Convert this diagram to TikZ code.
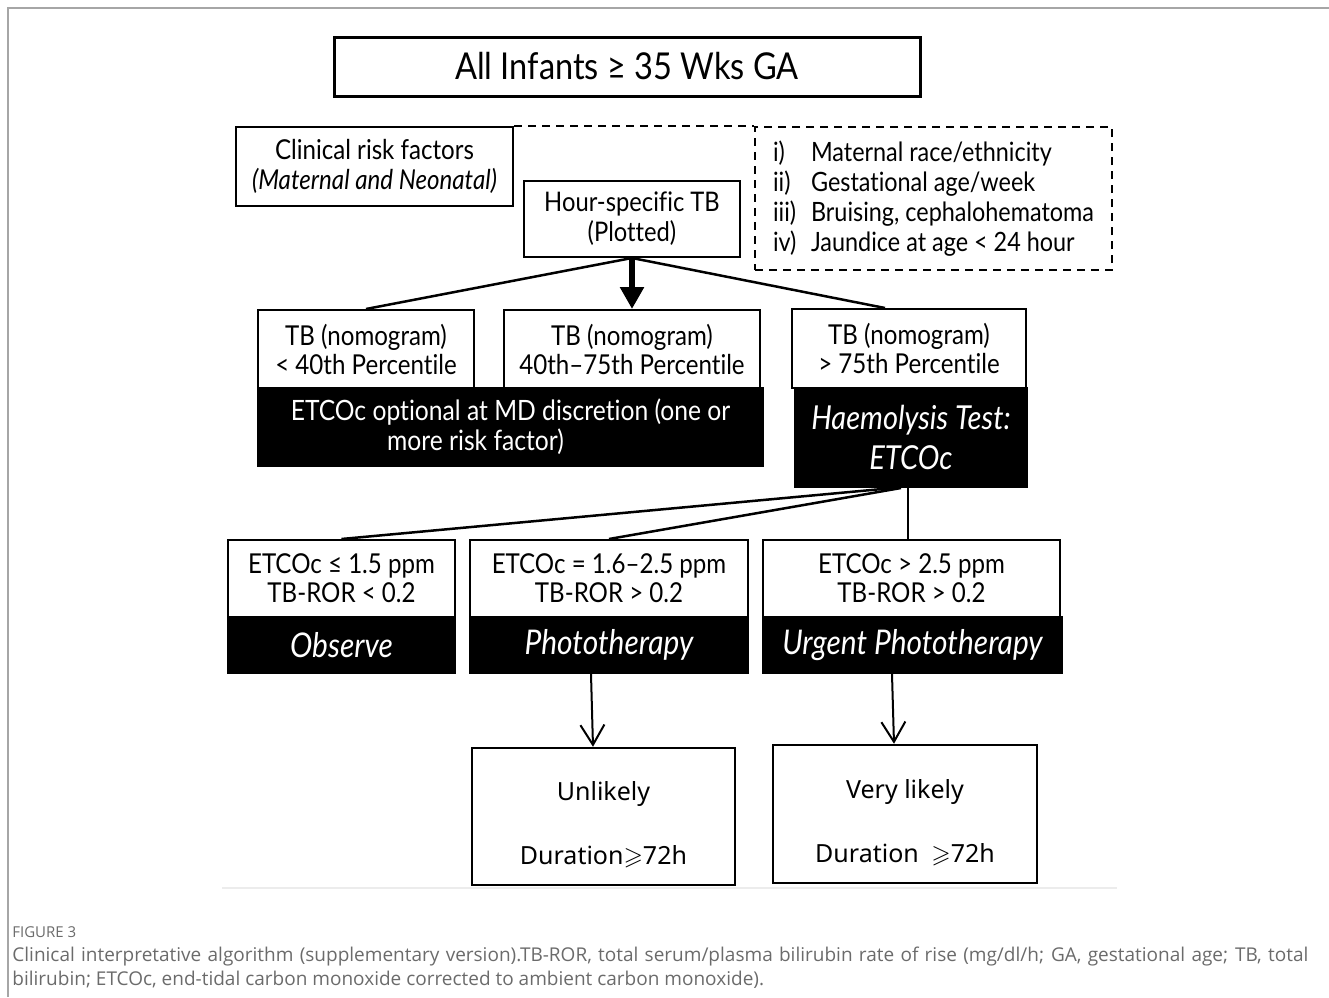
\documentclass[tikz,border=0pt]{standalone}
\usepackage{amssymb}
\usepackage{fontspec}
\setmainfont{Lato}[FakeStretch=0.88,Ligatures=NoCommon]
\newfontfamily\capfont{Open Sans}
\newfontfamily\outfont{Noto Sans}
\usetikzlibrary{arrows.meta}
\definecolor{capgrey}{HTML}{6B6B6B}
\tikzstyle{box}=[draw,line width=1pt,inner sep=0pt,align=center,fill=white,
                 font=\fontsize{13.7}{14.5}\selectfont]
\tikzstyle{darkbox}=[box,fill=black,text=white,font=\fontsize{17}{20}\selectfont\itshape]
\tikzstyle{outbox}=[box,line width=1.25pt,font=\outfont\fontsize{12.5}{32}\selectfont]
\tikzstyle{link}=[line width=1.25pt]

\begin{document}
\begin{tikzpicture}[x=0.5pt,y=-0.5pt]
  \useasboundingbox (0,0) rectangle (1329,997);
  \draw[gray!70,line width=0.75pt] (8,997) -- (8,8) -- (1329,8);
  % top and risk factors
  \node[box,line width=1.5pt,minimum width=293pt,minimum height=29.5pt,
        font=\fontsize{18.5}{20}\selectfont] (title) at (627,66.5) {All Infants ≥ 35 Wks GA};
  \node[box,minimum width=138.5pt,minimum height=39.5pt,font=\fontsize{13.7}{15}\selectfont]
        (risk) at (374.5,166.5) {Clinical risk factors\\\textit{(Maternal and Neonatal)}};
  \node[box,minimum width=108pt,minimum height=38pt,font=\fontsize{13.5}{15}\selectfont]
        (hour) at (632,219) {Hour-specific TB\\(Plotted)};
  \node[box,dashed,dash pattern=on 4pt off 3pt,align=left,minimum width=178.5pt,minimum height=71.5pt,
        font=\fontsize{13.3}{15}\selectfont] (factors) at (933.5,198.5)
        {\makebox[19pt][l]{i)}Maternal race/ethnicity\\
         \makebox[19pt][l]{ii)}Gestational age/week\\
         \makebox[19pt][l]{iii)}Bruising, cephalohematoma\\
         \makebox[19pt][l]{iv)}Jaundice at age < 24 hour};
  \draw[line width=1pt,dash pattern=on 4pt off 3pt] (risk.north east) -- (factors.north west);
  % nomogram bands
  \node[darkbox,minimum width=252.5pt,minimum height=39pt,font=\fontsize{14}{15}\selectfont]
        (optional) at (510.5,427) {ETCOc optional at MD discretion (one or\\more risk factor)\hspace*{35pt}};
  \node[darkbox,minimum width=116pt,minimum height=49.5pt,font=\fontsize{16.5}{20}\selectfont\itshape]
        (haemo) at (911,437.5) {Haemolysis Test:\\ETCOc};
  \node[box,minimum width=108pt,minimum height=39pt] (low) at (366,349) {TB (nomogram)\\< 40th Percentile};
  \node[box,minimum width=128pt,minimum height=39pt] (mid) at (632,349) {TB (nomogram)\\40th–75th Percentile};
  \node[box,minimum width=117pt,minimum height=39.5pt] (high) at (909,348.5) {TB (nomogram)\\> 75th Percentile};
  \draw[link] (hour.south) -- (low.north);
  \draw[link] (hour.south) -- ([xshift=-12pt]high.north);
  \draw[line width=3pt,-{Triangle[length=11pt,width=11.5pt]}] (hour.south) -- (mid.north);
  % ETCOc results
  \node[box,minimum width=113.5pt,minimum height=38.5pt] (etlow) at (341.5,578.5) {ETCOc ≤ 1.5 ppm\\TB-ROR < 0.2};
  \node[box,minimum width=139pt,minimum height=38.5pt] (etmid) at (609,578.5) {ETCOc = 1.6–2.5 ppm\\TB-ROR > 0.2};
  \node[box,minimum width=148.5pt,minimum height=38.5pt] (ethigh) at (911.5,578.5) {ETCOc > 2.5 ppm\\TB-ROR > 0.2};
  \node[darkbox,minimum width=113.5pt,minimum height=28pt] (observe) at (341.5,645) {Observe};
  \node[darkbox,minimum width=139pt,minimum height=28pt] (photo) at (609,645) {Phototherapy};
  \node[darkbox,minimum width=149.5pt,minimum height=28pt] (urgent) at (912.5,645) {Urgent Phototherapy};
  \draw[link] ([xshift=-9pt]haemo.south) -- (etlow.north);
  \draw[link] ([xshift=-5pt]haemo.south) -- (etmid.north);
  \draw[line width=1pt] ([xshift=-1.5pt]haemo.south) -- ([xshift=-1.75pt]ethigh.north);
  % duration
  \node[outbox,minimum width=131.5pt,minimum height=68.5pt] (unlikely) at (603.5,816.5)
        {\rule{0pt}{18pt}Unlikely\\Duration$\geqslant$72h};
  \node[outbox,minimum width=132pt,minimum height=69pt] (likely) at (905,814)
        {\rule{0pt}{18pt}Very likely\\Duration\enspace$\geqslant$72h};
  \draw[line width=1pt,-{Straight Barb[length=10pt,width=12pt]}]
        ([xshift=-9pt]photo.south) -- ([xshift=-5.25pt]unlikely.north);
  \draw[line width=1pt,-{Straight Barb[length=10pt,width=12pt]}]
        ([xshift=-10.25pt]urgent.south) -- ([xshift=-5.5pt]likely.north);
  \draw[gray!15,line width=0.75pt] (222,888) -- (1117,888);
  % caption
  \node[anchor=west,inner sep=0pt,text=capgrey,font=\capfont\fontsize{7.5}{9}\selectfont]
        (figlabel) at (12,932) {FIGURE 3};
  \node[anchor=north west,inner sep=0pt,text width=648pt,align=justify,text=capgrey,
        font=\capfont\fontsize{9.5}{12}\selectfont] (caption) at (12,947)
        {Clinical interpretative algorithm (supplementary version).TB-ROR, total serum/plasma bilirubin
         rate of rise (mg/dl/h; GA, gestational age; TB, total\linebreak bilirubin; ETCOc, end-tidal carbon
         monoxide corrected to ambient carbon monoxide).};
\end{tikzpicture}
\end{document}
